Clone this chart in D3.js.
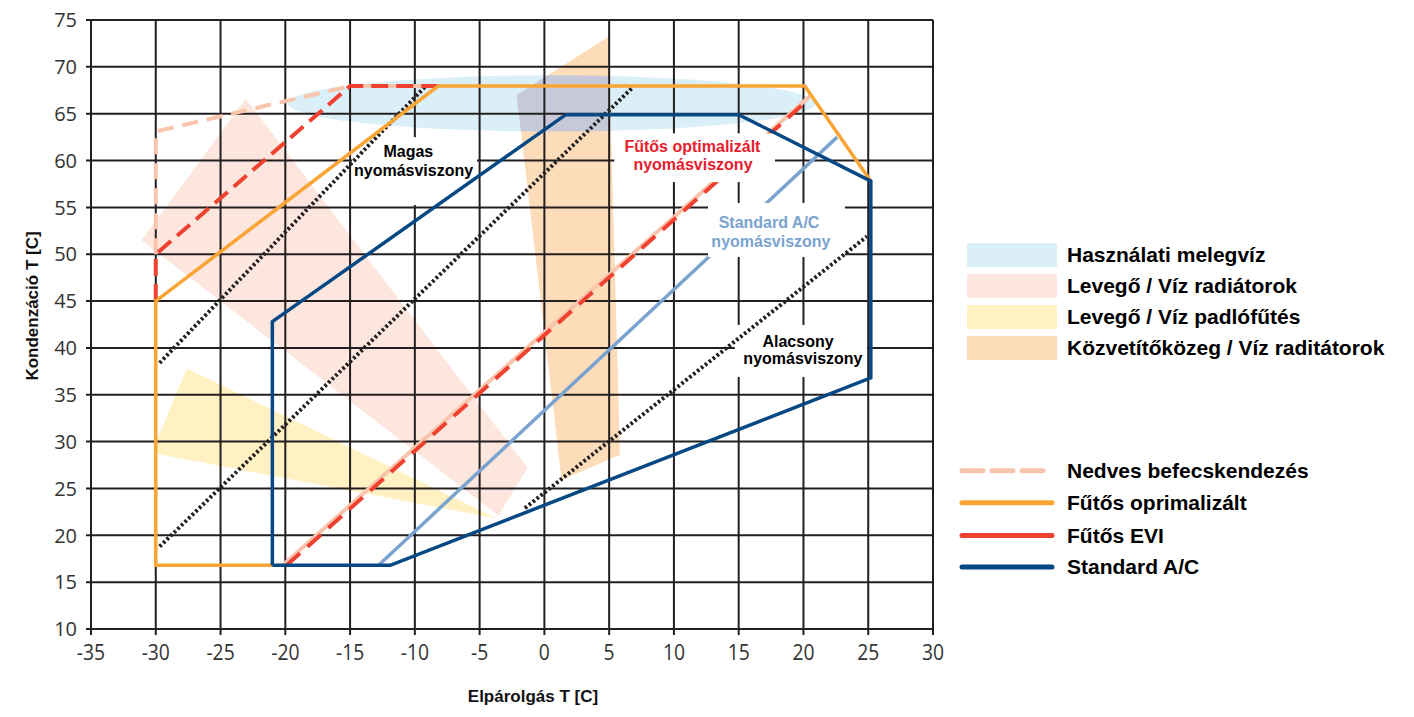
<!DOCTYPE html>
<html><head><meta charset="utf-8">
<script src="https://cdn.jsdelivr.net/npm/d3@7"></script>
<style>body{margin:0;background:#fff} svg{display:block}</style>
</head><body><svg id="c" width="1414" height="717"></svg>
<script>
// ---------- data ----------
const xTicks = [-35,-30,-25,-20,-15,-10,-5,0,5,10,15,20,25,30];
const yTicks = [10,15,20,25,30,35,40,45,50,55,60,65,70,75];
const xTitle = "Elpárolgás T [C]";
const yTitle = "Kondenzáció T [C]";

// application areas (data units: evaporation T, condensation T)
const hotWaterX = [-19.8, 20.9];
const hotWaterY = [63.1, 69.1];
const radiatorArea = [[-31.1,51.5],[-23.05,66.6],[-1.3,27.2],[-3.55,22.1]];
const floorArea = [[-27.6,37.8],[-3.68,21.8],[-29.9,28.7],[-29.9,30.2]];
const mediumArea = [[4.94,73.2],[5.84,28.6],[1.33,25.9],[-2.14,67.0]];

// operating envelopes
const standardAC = [[-21,16.8],[-21,42.8],[1.65,64.9],[15,64.9],[25.2,57.8],[25.2,36.8],[-11.9,16.8],[-21,16.8]];
const heatingOpt = [[-21,16.8],[-30,16.8],[-30,45],[-8.2,67.95],[20.1,67.95],[25.2,57.8]];
const heatingEVI = [[-30,45],[-30,50],[-15,67.95],[-8.2,67.95]];
const heatingEVIDiag = [[-19.9,16.8],[20.05,66.1]];
const wetInjection = [[-30,50],[-30,63.1],[-15,67.95]];
const wetInjectionTop = [[-15,67.95],[-8.2,67.95]];
const wetInjectionDiag = [[-20.2,16.8],[20.5,66.9]];
const standardACDiag = [[-12.8,16.8],[22.6,62.5]];

// pressure ratio lines (dotted)
const ratioHigh = [[-29.7,38.4],[-9.2,67.9]];
const ratioMid = [[-29.7,18.8],[6.74,67.7]];
const ratioLow = [[-1.5,22.9],[24.9,51.9]];

// annotation labels (anchor in data units)
const noteHigh = {lines:["Magas","nyomásviszony"], x:[-10.5,-10.1], y:[60.38,58.35], box:[-14.85,62.5,-5.2,55.25]};
const noteOpt = {lines:["Fűtős optimalizált","nyomásviszony"], x:[11.43,11.47], y:[60.91,58.99], box:[5.4,62.9,17.8,57.7]};
const noteStd = {lines:["Standard A/C","nyomásviszony"], x:[17.34,17.49], y:[52.8,50.77], box:[12.63,55.47,23.2,49.7]};
const noteLow = {lines:["Alacsony","nyomásviszony"], x:[19.58,19.96], y:[40.1,38.28], box:[14.7,42.45,24.9,36.9]};

const areaLegend = ["Használati melegvíz","Levegő / Víz radiátorok","Levegő / Víz padlófűtés","Közvetítőközeg / Víz raditátorok"];
const lineLegend = ["Nedves befecskendezés","Fűtős oprimalizált","Fűtős EVI","Standard A/C"];

// ---------- styles ----------
const C = {
  hot:"#dbeff8", rad:"#fde6dd", floor:"#fff1c1", med:"#fddcb9", overlap:"#c5c9d8",
  grid:"#231f20", orange:"#f8a535", red:"#ef4130", pink:"#f9c4ac", navy:"#054884",
  lblue:"#7ba3cf", dot:"#231f20", redText:"#e81c2d"
};
const areaColors = [C.hot, C.rad, C.floor, C.med];

const svg = d3.select("#c");
const x = d3.scaleLinear().domain([-35,30]).range([91,933]);
const y = d3.scaleLinear().domain([10,75]).range([629,20]);
const line = d3.line().x(d=>x(d[0])).y(d=>y(d[1]));
const BOLD = "Arial, 'Liberation Sans', sans-serif";

// fills
const defs = svg.append("defs");
const ecx = (hotWaterX[0]+hotWaterX[1])/2, ecy = (hotWaterY[0]+hotWaterY[1])/2;
const erx = (x(hotWaterX[1])-x(hotWaterX[0]))/2, ery = (y(hotWaterY[0])-y(hotWaterY[1]))/2;
defs.append("clipPath").attr("id","ell").append("ellipse")
  .attr("cx",x(ecx)).attr("cy",y(ecy)).attr("rx",erx).attr("ry",ery);

svg.append("path").attr("d",line(radiatorArea)+"Z").attr("fill",C.rad);
svg.append("path").attr("d",line(floorArea)+"Z").attr("fill",C.floor);
svg.append("ellipse").attr("cx",x(ecx)).attr("cy",y(ecy)).attr("rx",erx).attr("ry",ery).attr("fill",C.hot);
svg.append("path").attr("d",line(mediumArea)+"Z").attr("fill",C.med);
svg.append("path").attr("d",line(mediumArea)+"Z").attr("fill",C.overlap).attr("clip-path","url(#ell)");

// grid
const g = svg.append("g");
g.selectAll("line.v").data(xTicks).join("line")
  .attr("x1",d=>x(d)).attr("x2",d=>x(d)).attr("y1",y(75)).attr("y2",y(10)+6)
  .attr("stroke",C.grid).attr("stroke-width",2);
g.selectAll("line.h").data(yTicks).join("line").attr("class","h")
  .attr("x1",x(-35)-5).attr("x2",x(30)).attr("y1",d=>y(d)).attr("y2",d=>y(d))
  .attr("stroke",C.grid).attr("stroke-width",2);

// tick labels
svg.append("g").selectAll("text").data(yTicks).join("text")
  .attr("x",77).attr("y",d=>y(d)).attr("dy","0.36em").attr("text-anchor","end")
  .attr("font-family","'Open Sans', sans-serif").attr("font-size",20).attr("fill","#333")
  .text(d=>d);
svg.append("g").selectAll("text").data(xTicks).join("text")
  .attr("x",d=>x(d)).attr("y",660).attr("text-anchor","middle")
  .attr("font-family","'Open Sans', sans-serif").attr("font-size",21).attr("fill","#333")
  .attr("transform",d=>`translate(${x(d)},660) scale(0.92,1.08) translate(${-x(d)},-660)`)
  .text(d=>d);
svg.append("text").attr("x",533).attr("y",702).attr("text-anchor","middle")
  .attr("font-family",BOLD).attr("font-weight","bold").attr("font-size",17).attr("fill","#111").text(xTitle);
svg.append("text").attr("transform","translate(38,306) rotate(-90)").attr("text-anchor","middle")
  .attr("font-family",BOLD).attr("font-weight","bold").attr("font-size",17).attr("fill","#111").text(yTitle);

function path(data, color, w, dash, cap){
  const p = svg.append("path").attr("d",line(data)).attr("fill","none")
    .attr("stroke",color).attr("stroke-width",w).attr("stroke-linejoin","miter");
  if(dash) p.attr("stroke-dasharray",dash);
  if(cap) p.attr("stroke-linecap",cap);
  return p;
}

// diagonal lines that get interrupted by label boxes
path(standardACDiag, C.lblue, 3.5);
path(wetInjectionDiag, C.pink, 4);
path(heatingEVIDiag, C.red, 4, "18,10");

// white label boxes
[noteHigh, noteOpt, noteStd, noteLow].forEach(n=>{
  const b = n.box;
  svg.append("rect").attr("x",x(b[0])).attr("y",y(b[1]))
    .attr("width",x(b[2])-x(b[0])).attr("height",y(b[3])-y(b[1])).attr("fill","#fff");
});

// dotted pressure-ratio lines
[ratioHigh, ratioMid, ratioLow].forEach(d=>path(d, C.dot, 4, "2.6,2.4"));

// envelopes
path(wetInjection, C.pink, 4, "16,9");
path(wetInjectionTop, C.pink, 4);
path(heatingEVI, C.red, 4, "17,8");
path(heatingOpt, C.orange, 3.5);
path(standardAC, C.navy, 3.5);

// annotations
function note(n, color){
  n.lines.forEach((t,i)=>{
    svg.append("text").attr("x",x(n.x[i])).attr("y",y(n.y[i])).attr("text-anchor","middle")
      .attr("font-family",BOLD).attr("font-weight","bold").attr("font-size",16).attr("fill",color).text(t);
  });
}
note(noteHigh,"#000");
note(noteOpt,C.redText);
note(noteStd,C.lblue);
note(noteLow,"#000");

// legends
const lg = svg.append("g");
areaLegend.forEach((t,i)=>{
  const cy = 255 + i*31;
  lg.append("rect").attr("x",967).attr("y",cy-12).attr("width",90).attr("height",24).attr("fill",areaColors[i]);
  lg.append("text").attr("x",1067).attr("y",cy+7).attr("font-family",BOLD).attr("font-weight","bold")
    .attr("font-size",21).attr("fill","#000").text(t);
});
const lineStyles = [
  {c:C.pink, dash:"21,9"}, {c:C.orange}, {c:C.red}, {c:C.navy}
];
lineLegend.forEach((t,i)=>{
  const cy = [470.7,502.7,535.5,567][i];
  const s = lineStyles[i];
  const l = lg.append("line").attr("x1",962).attr("x2",1052).attr("y1",cy).attr("y2",cy)
    .attr("stroke",s.c).attr("stroke-width",5).attr("stroke-linecap","round");
  if(s.dash) l.attr("stroke-dasharray",s.dash);
  lg.append("text").attr("x",1067).attr("y",cy+7).attr("font-family",BOLD).attr("font-weight","bold")
    .attr("font-size",21).attr("fill","#000").text(t);
});
</script></body></html>
